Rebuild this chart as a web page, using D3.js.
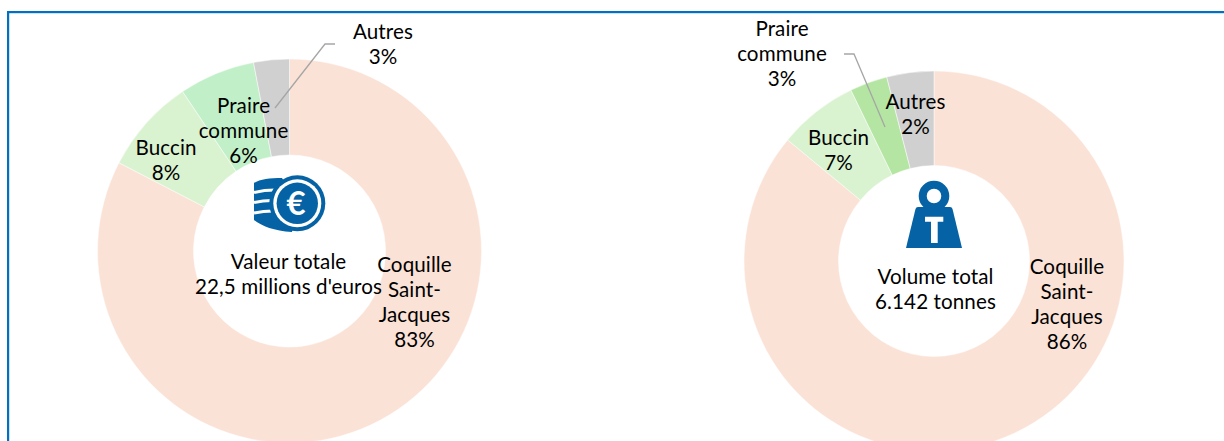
<!DOCTYPE html>
<html><head><meta charset="utf-8">
<script src="https://cdnjs.cloudflare.com/ajax/libs/d3/7.8.5/d3.min.js"></script>
<style>html,body{margin:0;padding:0;background:#fff}svg{display:block}text{font-family:Lato,"Open Sans",sans-serif;font-size:20.6px;letter-spacing:0.1px;fill:#000;text-anchor:middle}</style>
</head><body><svg id="c" width="1224" height="441"></svg>
<script>
const speciesLeft = ["Coquille Saint-Jacques","Buccin","Praire commune","Autres"];
const valuesLeft = [82.6,8,6.4,3];
const speciesRight = ["Coquille Saint-Jacques","Buccin","Praire commune","Autres"];
const valuesRight = [86,6.8,3.2,4];
const colorsLeft = ["#fbe2d6","#d9f2d0","#c1f0c8","#d0d0d0"];
const colorsRight = ["#fbe2d6","#d9f2d0","#b4e5a2","#d0d0d0"];
const labelsLeft = [["Coquille","Saint-","Jacques","83%"],["Buccin","8%"],["Praire","commune","6%"],["Autres","3%"]];
const labelsRight = [["Coquille","Saint-","Jacques","86%"],["Buccin","7%"],["Praire","commune","3%"],["Autres","2%"]];
const centerLeft = ["Valeur totale","22,5 millions d'euros"];
const centerRight = ["Volume total","6.142 tonnes"];

const svg = d3.select("#c");
const blue = "#0070c0", icon = "#0563a5";
svg.append("rect").attr("x",7).attr("y",11).attr("width",1217).attr("height",2.2).attr("fill",blue);
svg.append("rect").attr("x",7).attr("y",11).attr("width",2.2).attr("height",430).attr("fill",blue);

function donut(cfg){
  const g = svg.append("g").attr("transform",`translate(${cfg.cx},${cfg.cy})`);
  const pie = d3.pie().sort(null).value(d=>d)(cfg.values);
  const arc = d3.arc().innerRadius(cfg.r0).outerRadius(cfg.r1);
  g.selectAll("path").data(pie).join("path").attr("d",arc)
    .attr("fill",(d,i)=>cfg.colors[i]).attr("stroke","#fff").attr("stroke-width",0.5);
  svg.append("polyline").attr("points",cfg.leader.join(" ")).attr("fill","none").attr("stroke","#a6a6a6").attr("stroke-width",1.3);
  cfg.labels.forEach((lines,i)=>block(lines,cfg.labelPos[i]));
  block(cfg.center,cfg.centerPos);
}
function block(lines,p){
  svg.append("text").attr("x",p[0]).attr("y",p[1]).selectAll("tspan").data(lines).join("tspan")
    .attr("x",p[0]).attr("dy",(d,i)=>i?25:0).text(d=>d);
}
donut({cx:289.5,cy:251,r0:96,r1:192,values:valuesLeft,colors:colorsLeft,labels:labelsLeft,
  labelPos:[[414.5,272],[166,155],[243.5,113],[383,39]],center:centerLeft,centerPos:[288.5,269],
  leader:[[275,108],[325,44],[335,44]]});
donut({cx:934,cy:261,r0:95.5,r1:190,values:valuesRight,colors:colorsRight,labels:labelsRight,
  labelPos:[[1067,274],[838.5,145],[782,36],[915.5,109]],center:centerRight,centerPos:[935.5,284],
  leader:[[885,127],[854,54],[844,54]]});

// coins icon
const ci = svg.append("g");
ci.append("path").attr("d","M282 178 C270 178 260 179 254 183 L254 220 C262 226 274 231 292 232 L297 203 Z").attr("fill",icon);
ci.selectAll("path.stripe").data([[254,192.5,275,190],[254,202.5,272,200.5],[254,213,273,211]]).join("path")
  .attr("class","stripe").attr("d",d=>`M${d[0]} ${d[1]} Q${(d[0]+d[2])/2} ${d[3]} ${d[2]} ${d[3]}`)
  .attr("fill","none").attr("stroke","#fff").attr("stroke-width",3);
ci.append("circle").attr("cx",297.3).attr("cy",203.3).attr("r",28).attr("fill",icon);
ci.append("circle").attr("cx",297.3).attr("cy",203.3).attr("r",24).attr("fill","#fff");
ci.append("circle").attr("cx",297.3).attr("cy",203.3).attr("r",20.7).attr("fill",icon);
ci.append("text").attr("x",296).attr("y",215).style("font-size","33px").style("font-weight",700).style("fill","#fff").text("€");

// weight icon
const wi = svg.append("g");
wi.append("circle").attr("cx",934).attr("cy",196).attr("r",11.3).attr("fill","none").attr("stroke",icon).attr("stroke-width",8);
wi.append("path").attr("d","M918 207 L950 207 Q952 207 952.5 209 L962 248 L906 248 L915.5 209 Q916 207 918 207 Z").attr("fill",icon);
wi.append("path").attr("d","M925 216.7 H943.3 V221.7 H937.7 V243 H931 V221.7 H925 Z").attr("fill","#fff");
</script></body></html>
